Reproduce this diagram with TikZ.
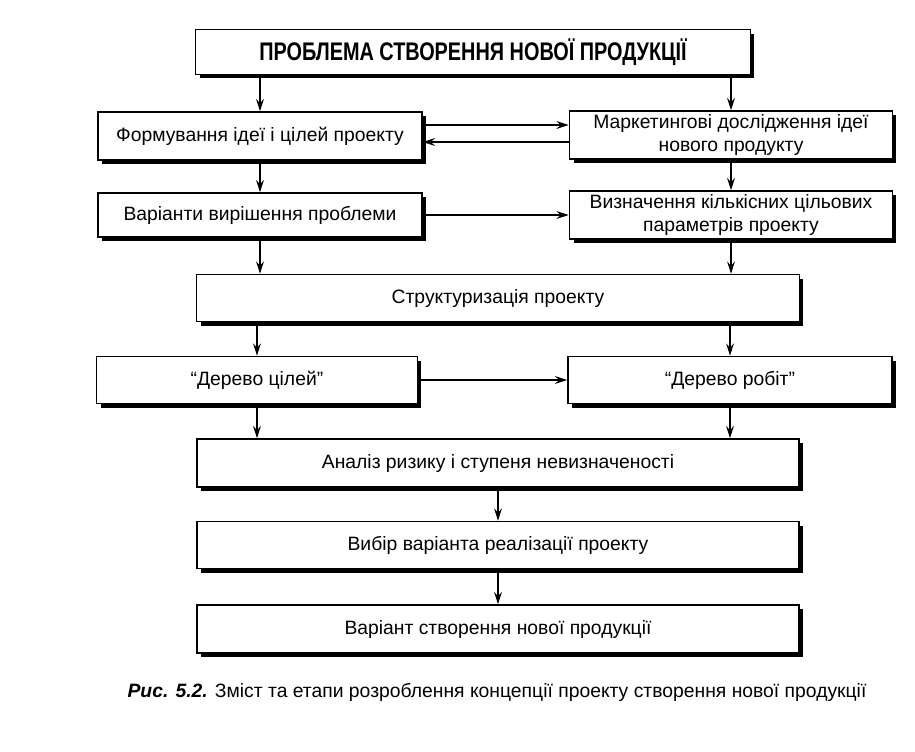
\documentclass[tikz,border=0pt]{standalone}
\usepackage{fontspec}
\setmainfont{Liberation Sans}
\usetikzlibrary{positioning}
\usetikzlibrary{calc}
\usetikzlibrary{arrows.meta}
\usetikzlibrary{shadows}

\begin{document}
\begin{tikzpicture}
    [x=0.02cm, y=-0.02cm,
    stage/.style={draw, line width=1pt, fill=white, inner sep=2pt, align=center,
      font=\fontsize{11}{13}\selectfont,
      drop shadow={shadow xshift=0.08cm, shadow yshift=-0.08cm, fill=black, opacity=1}},
    flow/.style={-{Stealth[length=7pt, width=4.5pt, inset=2.5pt]}, line width=0.6pt}]
     \useasboundingbox (0,0) rectangle (915,751);
     % boxes, placed at their centres
     \node[stage, minimum width=11.1cm, minimum height=0.9cm] (prob) at (473, 52)
        {\scalebox{0.78}[1]{\fontsize{14.5}{16}\selectfont\bfseries ПРОБЛЕМА СТВОРЕННЯ НОВОЇ ПРОДУКЦІЇ}};
     \node[stage, minimum width=6.48cm, minimum height=0.96cm] (form) at (260, 136)
        {Формування ідеї і цілей проекту};
     \node[stage, minimum width=6.46cm, minimum height=0.9cm] (mark) at (731, 135)
        {Маркетингові дослідження ідеї\\нового продукту};
     \node[stage, minimum width=6.48cm, minimum height=0.88cm] (var) at (260, 215)
        {Варіанти вирішення проблеми};
     \node[stage, minimum width=6.46cm, minimum height=0.88cm] (param) at (731, 215)
        {Визначення кількісних цільових\\параметрів проекту};
     \node[stage, minimum width=12.06cm, minimum height=0.94cm] (struct) at (498, 298)
        {Структуризація проекту};
     \node[stage, minimum width=6.42cm, minimum height=0.94cm] (goals) at (257, 380)
        {“Дерево цілей”};
     \node[stage, minimum width=6.48cm, minimum height=0.94cm] (works) at (730, 380)
        {“Дерево робіт”};
     \node[stage, minimum width=12.04cm, minimum height=0.96cm] (risk) at (498, 463)
        {Аналіз ризику і ступеня невизначеності};
     \node[stage, minimum width=12.04cm, minimum height=0.94cm] (choice) at (498, 545)
        {Вибір варіанта реалізації проекту};
     \node[stage, minimum width=12.04cm, minimum height=0.96cm] (result) at (498, 629)
        {Варіант створення нової продукції};
     \node[font=\fontsize{11}{13}\selectfont] (caption) at (497, 692)
        {\textbf{\textit{Рис. 5.2.}} Зміст та етапи розроблення концепції проекту створення нової продукції};
     % connectors
     \draw[flow] (prob.south -| form.north) -- (form.north);
     \draw[flow] (prob.south -| mark.north) -- (mark.north);
     \draw[flow] ([yshift=0.22cm]form.east) -- ([yshift=0.22cm]form.east -| mark.west);
     \draw[flow] ([yshift=-0.14cm]mark.west) -- ([yshift=-0.14cm]mark.west -| form.east);
     \draw[flow] (form.south) -- (var.north);
     \draw[flow] (mark.south) -- (param.north);
     \draw[flow] (var.east) -- (param.west);
     \draw[flow] (var.south) -- (var.south |- struct.north);
     \draw[flow] (param.south) -- (param.south |- struct.north);
     \draw[flow] (struct.south -| goals.north) -- (goals.north);
     \draw[flow] (struct.south -| works.north) -- (works.north);
     \draw[flow] (goals.east) -- (works.west);
     \draw[flow] (goals.south) -- (goals.south |- risk.north);
     \draw[flow] (works.south) -- (works.south |- risk.north);
     \draw[flow] (risk.south) -- (choice.north);
     \draw[flow] (choice.south) -- (result.north);
\end{tikzpicture}
\end{document}
